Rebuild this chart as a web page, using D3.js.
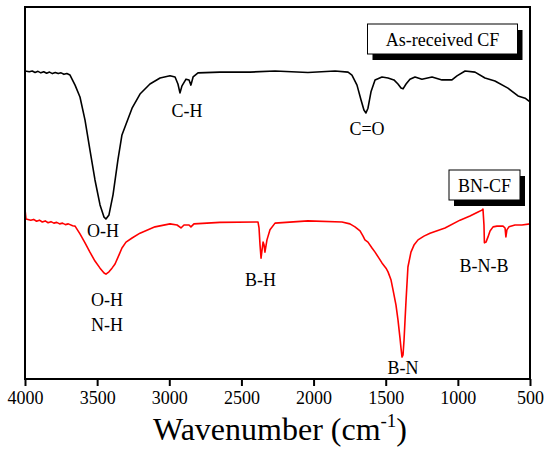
<!DOCTYPE html>
<html>
<head>
<meta charset="utf-8">
<script src="https://cdn.jsdelivr.net/npm/d3@7"></script>
<style>
  body { margin: 0; background: #fff; }
  svg text { font-family: "Liberation Serif", "Times New Roman", serif; fill: #000; }
  .frame { fill: none; stroke: #000; stroke-width: 2; }
  .curve { fill: none; stroke-width: 1.6; stroke-linejoin: round; }
</style>
</head>
<body>
<div id="chart"></div>
<script>
// wavenumber (cm-1), transmittance (a.u.)
var asReceived = [
  [4000,82.8],[3970,82.6],[3950,82.8],[3930,82.4],[3910,82.7],[3890,82.3],[3870,82.6],[3850,82.2],
  [3830,82.5],[3810,82.1],[3790,82.4],[3770,82.1],[3750,82.3],[3730,81.9],[3710,82.1],[3688,81.7],
  [3653,79.0],[3619,75.8],[3584,69.6],[3550,61.6],[3515,53.5],[3480,46.8],[3452,43.5],[3439,43.0],
  [3418,44.1],[3390,49.5],[3356,58.9],[3328,65.6],[3300,68.5],[3258,72.8],[3203,76.6],[3134,79.3],
  [3064,80.9],[2995,81.5],[2960,81.2],[2940,79.3],[2926,76.9],[2912,78.8],[2884,80.6],[2863,80.4],
  [2850,79.0],[2835,81.2],[2801,82.3],[2649,82.5],[2441,82.5],[2267,82.8],[2039,82.4],[1851,82.8],
  [1761,82.5],[1734,81.7],[1699,79.0],[1671,75.0],[1651,72.3],[1637,71.5],[1623,72.8],[1602,77.2],
  [1574,80.4],[1526,81.2],[1484,80.9],[1443,80.4],[1415,79.3],[1394,78.2],[1380,78.0],[1359,79.3],
  [1332,80.6],[1297,81.2],[1249,80.6],[1179,81.2],[1110,80.4],[1041,80.4],[1006,81.5],[950,82.8],
  [881,82.5],[812,80.9],[743,80.1],[653,78.2],[583,76.1],[534,75.5],[500,74.5]
];

var bnCF = [
  [4000,45.7],[3993,43.0],[3960,42.7],[3940,42.9],[3920,42.4],[3900,42.7],[3880,42.2],[3860,42.5],
  [3840,42.0],[3820,42.3],[3800,41.9],[3780,42.1],[3760,41.7],[3740,41.9],[3720,41.5],[3700,41.7],
  [3670,41.2],[3653,41.1],[3619,39.0],[3584,36.6],[3550,34.1],[3515,31.7],[3480,29.8],[3452,28.5],
  [3439,28.2],[3418,28.8],[3397,29.8],[3376,30.9],[3349,33.3],[3328,35.2],[3300,36.8],[3258,37.9],
  [3203,39.2],[3099,40.9],[2995,41.7],[2946,41.4],[2919,40.6],[2898,41.4],[2863,41.4],[2850,40.9],
  [2829,41.7],[2649,42.1],[2385,42.2],[2378,40.6],[2371,36.0],[2364,32.5],[2357,34.7],[2350,36.8],
  [2343,36.0],[2337,34.1],[2323,37.4],[2302,40.1],[2267,41.9],[2039,42.5],[1803,42.2],[1748,41.7],
  [1713,40.9],[1678,39.8],[1657,38.4],[1644,37.4],[1623,36.8],[1595,35.2],[1574,34.1],[1547,32.5],
  [1526,31.2],[1498,29.8],[1484,28.8],[1463,26.6],[1449,23.9],[1429,19.9],[1415,15.9],[1401,11.0],
  [1394,8.3],[1387,5.9],[1380,6.5],[1373,10.5],[1366,15.9],[1359,21.2],[1346,30.1],[1325,34.1],
  [1304,36.0],[1276,37.4],[1235,38.4],[1193,39.2],[1089,40.6],[985,42.7],[916,43.8],[860,44.9],
  [833,45.4],[826,45.7],[819,41.4],[816,36.6],[805,36.8],[791,38.2],[777,39.8],[756,40.9],
  [729,41.1],[687,41.1],[673,40.6],[667,38.2],[660,40.1],[646,40.9],[604,41.4],[556,41.4],[500,41.7]
];

var xTicks = [4000, 3500, 3000, 2500, 2000, 1500, 1000, 500];

// peak labels: text, wavenumber, transmittance of baseline
var peakLabels = [
  ['O-H', 3459, 38.2], ['C-H', 2877, 70.4], ['C=O', 1630, 65.6],
  ['O-H', 3432, 19.6], ['N-H', 3432, 12.9], ['B-H', 2368, 25.0],
  ['B-N', 1380, 1.3], ['B-N-B', 819, 28.8]
];

var seriesNames = ['As-received CF', 'BN-CF'];
var seriesColors = ['#000000', '#ff0000'];

var W = 550, H = 465,
  m = {left: 25, right: 20, top: 7, bottom: 86},
  svg = d3.select('#chart').append('svg').attr('width', W).attr('height', H),
  x = d3.scaleLinear().domain([4000, 500]).range([m.left, W - m.right]),
  y = d3.scaleLinear().domain([0, 100]).range([H - m.bottom, m.top]);

var line = d3.line().x(function(d){ return x(d[0]); }).y(function(d){ return y(d[1]); });

[asReceived, bnCF].forEach(function(s, i){
  svg.append('path').datum(s).attr('class', 'curve').attr('stroke', seriesColors[i]).attr('d', line);
});

// frame
svg.append('rect').attr('class', 'frame')
  .attr('x', x(4000)).attr('y', y(100))
  .attr('width', x(500) - x(4000)).attr('height', y(0) - y(100));

var ax = svg.append('g').attr('transform', 'translate(0,' + y(0) + ')')
  .call(d3.axisBottom(x).tickValues(xTicks).tickFormat(d3.format('d'))
    .tickSize(7).tickSizeOuter(0).tickPadding(5))
  .attr('font-family', '"Liberation Serif", serif').attr('font-size', 18);
ax.select('.domain').remove();
ax.selectAll('line').attr('stroke-width', 2);

// axis title
var t = svg.append('text').attr('x', 280).attr('y', 440).attr('text-anchor', 'middle').attr('font-size', 32);
t.append('tspan').text('Wavenumber (cm');
t.append('tspan').attr('font-size', 19).attr('dy', -13).text('-1');
t.append('tspan').attr('dy', 13).text(')');

// peak labels
svg.selectAll('.peak').data(peakLabels).enter().append('text')
  .attr('class', 'peak').attr('text-anchor', 'middle').attr('font-size', 18)
  .attr('x', function(d){ return x(d[1]); })
  .attr('y', function(d){ return y(d[2]); })
  .text(function(d){ return d[0]; });

// legend boxes with drop shadow
var legendPos = [[442.5, 46, 75, 15], [484.5, 192, 35.5, 14.5]];
seriesNames.forEach(function(name, i){
  var p = legendPos[i], g = svg.append('g');
  g.append('rect').attr('x', p[0] - p[2] + 5).attr('y', p[1] - 22 + 6)
    .attr('width', 2 * p[2]).attr('height', 30).attr('fill', '#000');
  g.append('rect').attr('x', p[0] - p[2]).attr('y', p[1] - 22)
    .attr('width', 2 * p[2]).attr('height', 30).attr('fill', '#fff').attr('stroke', '#000').attr('stroke-width', 1);
  g.append('text').attr('x', p[0]).attr('y', p[1]).attr('text-anchor', 'middle').attr('font-size', 18).text(name);
});
</script>
</body>
</html>
